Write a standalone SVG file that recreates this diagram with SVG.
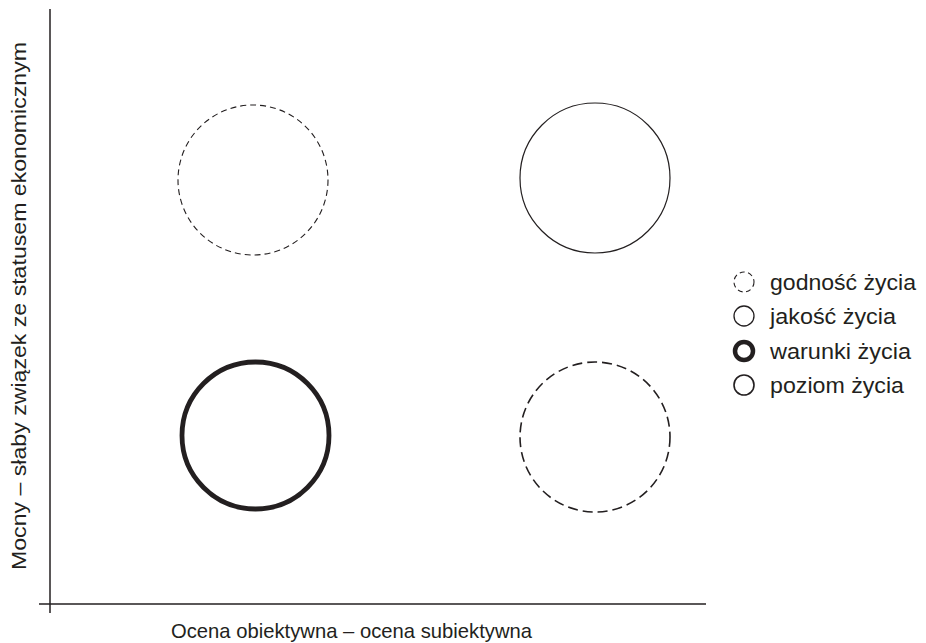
<svg xmlns="http://www.w3.org/2000/svg" width="926" height="643" viewBox="0 0 926 643">
<style>
text{font-family:"Liberation Sans",Arial,sans-serif;fill:#231f20}
.c{fill:none;stroke:#231f20}
.ax{stroke:#231f20;stroke-width:1.5;fill:none}
</style>
<rect width="926" height="643" fill="#fff"/>
<g id="axes">
<line class="ax" x1="50" y1="9" x2="50" y2="613"/>
<line class="ax" x1="39" y1="604" x2="706" y2="604"/>
</g>
<g id="godnosc"><circle class="c" cx="253" cy="180" r="75" stroke-width="1.1" stroke-dasharray="6 4"/></g>
<g id="jakosc"><circle class="c" cx="595" cy="178" r="75" stroke-width="1.2"/></g>
<g id="warunki"><circle class="c" cx="255.5" cy="435.5" r="73.5" stroke-width="4.8"/></g>
<g id="poziom"><circle class="c" cx="595" cy="437" r="75" stroke-width="1.6" stroke-dasharray="10 5"/></g>
<g id="legend" font-size="21.5">
<circle class="c" cx="744" cy="282" r="10" stroke-width="1.1" stroke-dasharray="5 3.5"/>
<text x="770" y="290" textLength="146" lengthAdjust="spacingAndGlyphs">godność życia</text>
<circle class="c" cx="744" cy="316" r="10" stroke-width="1.3"/>
<text x="770" y="324" textLength="126" lengthAdjust="spacingAndGlyphs">jakość życia</text>
<circle class="c" cx="744" cy="351" r="9" stroke-width="4.5"/>
<text x="770" y="359" textLength="141" lengthAdjust="spacingAndGlyphs">warunki życia</text>
<circle class="c" cx="744" cy="385" r="10" stroke-width="1.6"/>
<text x="770" y="393" textLength="134" lengthAdjust="spacingAndGlyphs">poziom życia</text>
</g>
<g id="labels" font-size="21">
<text x="171" y="638" textLength="361" lengthAdjust="spacingAndGlyphs">Ocena obiektywna – ocena subiektywna</text>
<text transform="translate(26,570) rotate(-90)" textLength="528" lengthAdjust="spacingAndGlyphs">Mocny – słaby związek ze statusem ekonomicznym</text>
</g>
</svg>
